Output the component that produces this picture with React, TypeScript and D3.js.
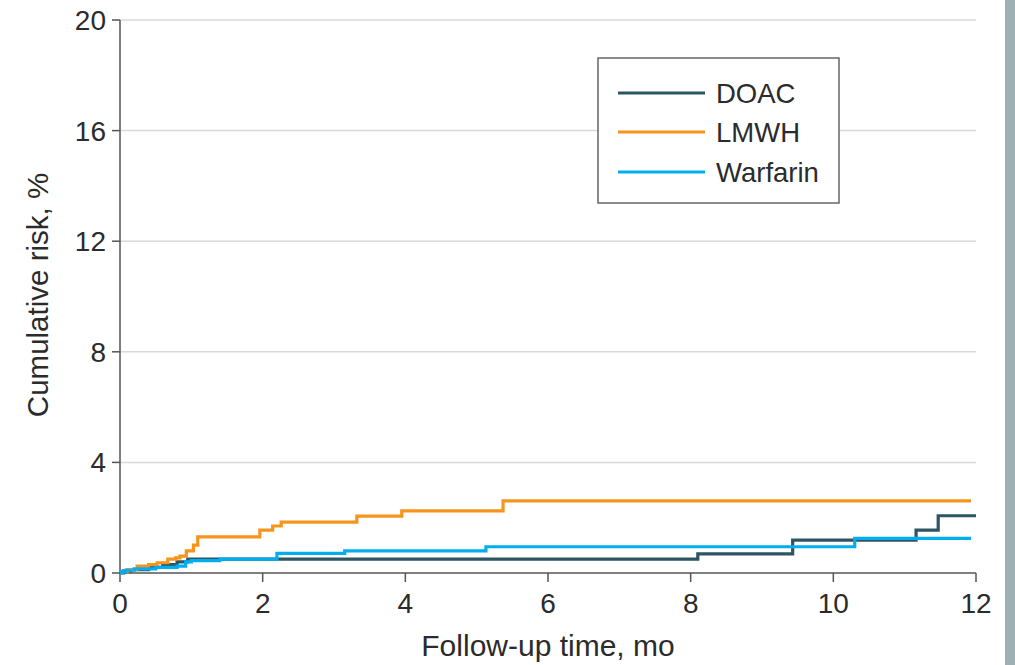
import React from "react";
import * as d3 from "d3";

const xTicks = [0, 2, 4, 6, 8, 10, 12];
const yTicks = [0, 4, 8, 12, 16, 20];

const doacTimes = [0, 0.05, 0.15, 0.4, 0.6, 0.8, 0.95, 8.1, 9.43, 11.16, 11.47, 12.0];
const doacValues = [0, 0.08, 0.12, 0.2, 0.3, 0.4, 0.5, 0.69, 1.19, 1.55, 2.07, 2.07];

const lmwhTimes = [0, 0.03, 0.1, 0.24, 0.4, 0.52, 0.67, 0.78, 0.84, 0.93, 1.03, 1.09, 1.96, 2.14, 2.26, 3.32, 3.95, 5.37, 11.93];
const lmwhValues = [0, 0.06, 0.12, 0.25, 0.3, 0.37, 0.5, 0.55, 0.61, 0.8, 1.01, 1.31, 1.55, 1.7, 1.84, 2.06, 2.25, 2.61, 2.61];

const warfarinTimes = [0, 0.02, 0.08, 0.2, 0.5, 0.8, 0.92, 1.0, 1.4, 2.2, 3.15, 5.13, 10.3, 11.93];
const warfarinValues = [0, 0.05, 0.1, 0.15, 0.2, 0.25, 0.4, 0.45, 0.5, 0.71, 0.8, 0.95, 1.25, 1.25];

const seriesNames = ["DOAC", "LMWH", "Warfarin"];
const seriesColors = ["#2e5564", "#f7941d", "#00aeef"];

const FONT = "'Liberation Sans', Arial, sans-serif";

export default function App() {
  const W = 1015;
  const H = 665;
  const x = d3.scaleLinear().domain([0, 12]).range([120, 976]);
  const y = d3.scaleLinear().domain([0, 20]).range([573, 20]);

  const line = d3
    .line<[number, number]>()
    .x((d) => x(d[0]))
    .y((d) => y(d[1]))
    .curve(d3.curveStepAfter);

  const series = [
    { times: doacTimes, values: doacValues },
    { times: lmwhTimes, values: lmwhValues },
    { times: warfarinTimes, values: warfarinValues },
  ];

  const legendX = 598;
  const legendY = 58;
  const legendRows = [93, 132, 172];

  return (
    <svg
      width={W}
      height={H}
      style={{ position: "absolute", left: 0, top: 0, background: "#fff" }}
      fontFamily={FONT}
    >
      <rect x={0} y={0} width={W} height={H} fill="#fff" />
      <rect x={1005} y={0} width={10} height={H} fill="#9fb0b4" />

      {/* gridlines */}
      {yTicks
        .filter((t) => t !== 0)
        .map((t) => (
          <line key={"g" + t} x1={x(0)} x2={x(12)} y1={y(t)} y2={y(t)} stroke="#d9d9d9" strokeWidth={1.5} />
        ))}

      {/* y axis */}
      <line x1={x(0)} x2={x(0)} y1={y(0)} y2={y(20)} stroke="#555" strokeWidth={1.5} />
      {yTicks.map((t) => (
        <g key={"y" + t}>
          <line x1={x(0) - 8} x2={x(0)} y1={y(t)} y2={y(t)} stroke="#555" strokeWidth={1.5} />
          <text x={x(0) - 14} y={y(t)} dy="0.36em" textAnchor="end" fontSize={28} fill="#2b2b2b">
            {t}
          </text>
        </g>
      ))}

      {/* x axis */}
      <line x1={x(0)} x2={x(12)} y1={y(0)} y2={y(0)} stroke="#555" strokeWidth={1.5} />
      {xTicks.map((t) => (
        <g key={"x" + t}>
          <line x1={x(t)} x2={x(t)} y1={y(0)} y2={y(0) + 9} stroke="#555" strokeWidth={1.5} />
          <text x={x(t)} y={y(0) + 40} textAnchor="middle" fontSize={28} fill="#2b2b2b">
            {t}
          </text>
        </g>
      ))}

      <text x={548} y={656} textAnchor="middle" fontSize={30} fill="#2b2b2b">
        Follow-up time, mo
      </text>
      <text
        transform={`translate(48, ${295}) rotate(-90)`}
        textAnchor="middle"
        fontSize={29.5}
        fill="#2b2b2b"
      >
        Cumulative risk, %
      </text>

      {/* curves */}
      {series.map((s, i) => (
        <path
          key={seriesNames[i]}
          d={line(s.times.map((t, j) => [t, s.values[j]] as [number, number])) || ""}
          fill="none"
          stroke={seriesColors[i]}
          strokeWidth={3.2}
        />
      ))}

      {/* legend */}
      <rect x={legendX} y={legendY} width={241} height={145} fill="#fff" stroke="#666" strokeWidth={1.5} />
      {seriesNames.map((n, i) => (
        <g key={"l" + n}>
          <line x1={618} x2={705} y1={legendRows[i]} y2={legendRows[i]} stroke={seriesColors[i]} strokeWidth={3.2} />
          <text x={716} y={legendRows[i]} dy="0.36em" fontSize={27.5} fill="#2b2b2b">
            {n}
          </text>
        </g>
      ))}
    </svg>
  );
}
